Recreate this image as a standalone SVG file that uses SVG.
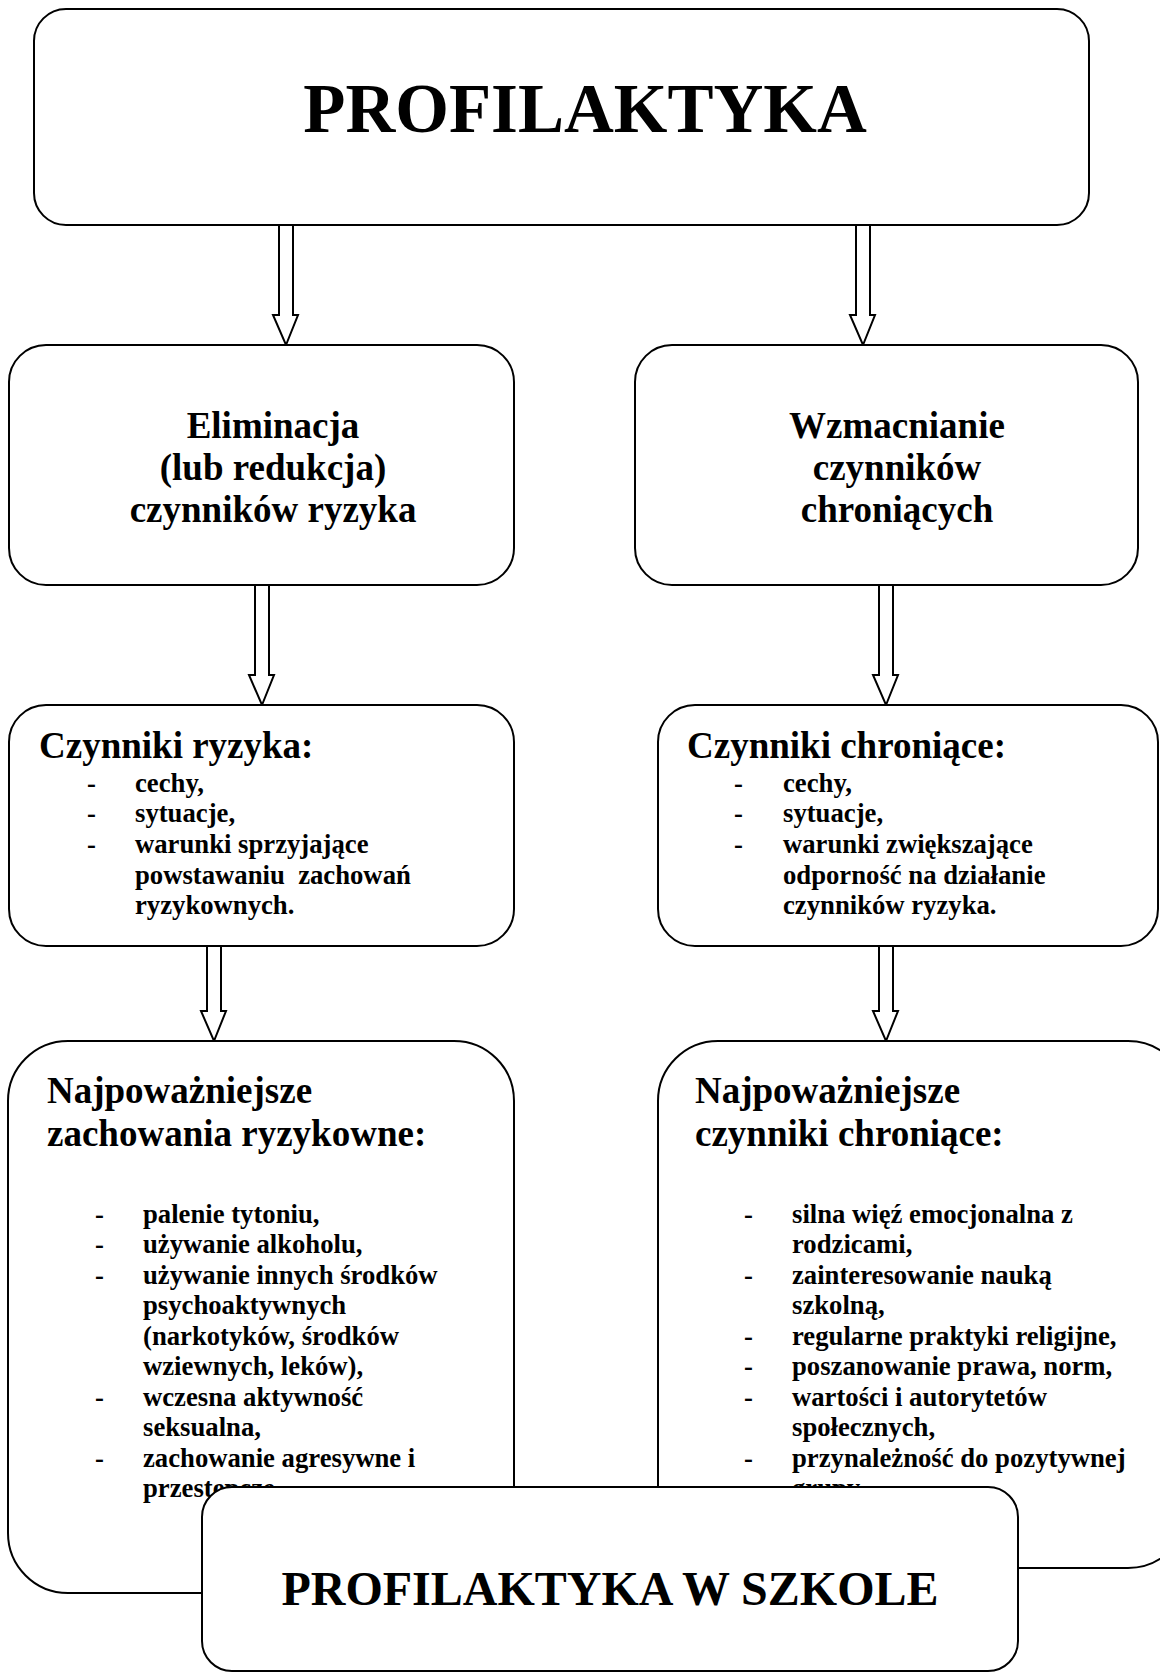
<svg xmlns="http://www.w3.org/2000/svg" width="1160" height="1674" viewBox="0 0 1160 1674">
<defs>
<style>
.box{fill:#fff;stroke:#000;stroke-width:2}
.arr{fill:#fff;stroke:#000;stroke-width:2;stroke-linejoin:miter}
text{font-family:"Liberation Serif","Times New Roman",serif;font-weight:bold;fill:#000}
.t1{font-size:69px;text-anchor:middle}
.t2{font-size:37px;text-anchor:middle}
.h{font-size:37px}
.i{font-size:26.7px}
.tb{font-size:48px;text-anchor:middle}
</style>
</defs>
<rect width="1160" height="1674" fill="#fff"/>
<g id="connectors">
<polygon class="arr" points="279,225 293,225 293,315 298,315 286,345 273,315 279,315"/>
<polygon class="arr" points="856,225 870,225 870,315 875,315 863,345 850,315 856,315"/>
<polygon class="arr" points="255,585 269,585 269,675 274,675 262,705 249,675 255,675"/>
<polygon class="arr" points="879,585 893,585 893,675 898,675 886,705 873,675 879,675"/>
<polygon class="arr" points="207,946 221,946 221,1011 226,1011 214,1041 201,1011 207,1011"/>
<polygon class="arr" points="879,946 893,946 893,1011 898,1011 886,1041 873,1011 879,1011"/>
</g>
<g id="top">
<rect class="box" x="34" y="9" width="1055" height="216" rx="32"/>
<text class="t1" x="585" y="132">PROFILAKTYKA</text>
</g>
<g id="elim">
<rect class="box" x="9" y="345" width="505" height="240" rx="37"/>
<text class="t2" x="273" y="438">Eliminacja</text>
<text class="t2" x="273" y="480">(lub redukcja)</text>
<text class="t2" x="273" y="522">czynników ryzyka</text>
</g>
<g id="wzm">
<rect class="box" x="635" y="345" width="503" height="240" rx="37"/>
<text class="t2" x="897" y="438">Wzmacnianie</text>
<text class="t2" x="897" y="480">czynników</text>
<text class="t2" x="897" y="522">chroniących</text>
</g>
<g id="ryz">
<rect class="box" x="9" y="705" width="505" height="241" rx="37"/>
<text class="h" x="39" y="758">Czynniki ryzyka:</text>
<text class="i" x="87" y="792">-</text><text class="i" x="135" y="792">cechy,</text>
<text class="i" x="87" y="822">-</text><text class="i" x="135" y="822">sytuacje,</text>
<text class="i" x="87" y="853">-</text><text class="i" x="135" y="853">warunki sprzyjające</text>
<text class="i" x="135" y="884" xml:space="preserve">powstawaniu  zachowań</text>
<text class="i" x="135" y="914">ryzykownych.</text>
</g>
<g id="chr">
<rect class="box" x="658" y="705" width="500" height="241" rx="37"/>
<text class="h" x="687" y="758">Czynniki chroniące:</text>
<text class="i" x="734" y="792">-</text><text class="i" x="783" y="792">cechy,</text>
<text class="i" x="734" y="822">-</text><text class="i" x="783" y="822">sytuacje,</text>
<text class="i" x="734" y="853">-</text><text class="i" x="783" y="853">warunki zwiększające</text>
<text class="i" x="783" y="884">odporność na działanie</text>
<text class="i" x="783" y="914">czynników ryzyka.</text>
</g>
<g id="zach">
<rect class="box" x="8" y="1041" width="506" height="552" rx="60"/>
<text class="h" x="47" y="1103">Najpoważniejsze</text>
<text class="h" x="47" y="1146">zachowania ryzykowne:</text>
<text class="i" x="95" y="1223">-</text><text class="i" x="143" y="1223">palenie tytoniu,</text>
<text class="i" x="95" y="1253">-</text><text class="i" x="143" y="1253">używanie alkoholu,</text>
<text class="i" x="95" y="1284">-</text><text class="i" x="143" y="1284">używanie innych środków</text>
<text class="i" x="143" y="1314">psychoaktywnych</text>
<text class="i" x="143" y="1345">(narkotyków, środków</text>
<text class="i" x="143" y="1375">wziewnych, leków),</text>
<text class="i" x="95" y="1406">-</text><text class="i" x="143" y="1406">wczesna aktywność</text>
<text class="i" x="143" y="1436">seksualna,</text>
<text class="i" x="95" y="1467">-</text><text class="i" x="143" y="1467">zachowanie agresywne i</text>
<text class="i" x="143" y="1497">przestępcze.</text>
</g>
<g id="ochr">
<rect class="box" x="658" y="1041" width="530" height="527" rx="60"/>
<text class="h" x="695" y="1103">Najpoważniejsze</text>
<text class="h" x="695" y="1146">czynniki chroniące:</text>
<text class="i" x="744" y="1223">-</text><text class="i" x="792" y="1223">silna więź emocjonalna z</text>
<text class="i" x="792" y="1253">rodzicami,</text>
<text class="i" x="744" y="1284">-</text><text class="i" x="792" y="1284">zainteresowanie nauką</text>
<text class="i" x="792" y="1314">szkolną,</text>
<text class="i" x="744" y="1345">-</text><text class="i" x="792" y="1345">regularne praktyki religijne,</text>
<text class="i" x="744" y="1375">-</text><text class="i" x="792" y="1375">poszanowanie prawa, norm,</text>
<text class="i" x="744" y="1406">-</text><text class="i" x="792" y="1406">wartości i autorytetów</text>
<text class="i" x="792" y="1436">społecznych,</text>
<text class="i" x="744" y="1467">-</text><text class="i" x="792" y="1467">przynależność do pozytywnej</text>
<text class="i" x="792" y="1497">grupy.</text>
</g>
<g id="szkola">
<rect class="box" x="202" y="1487" width="816" height="184" rx="30"/>
<text class="tb" x="610" y="1605">PROFILAKTYKA W SZKOLE</text>
</g>
</svg>
